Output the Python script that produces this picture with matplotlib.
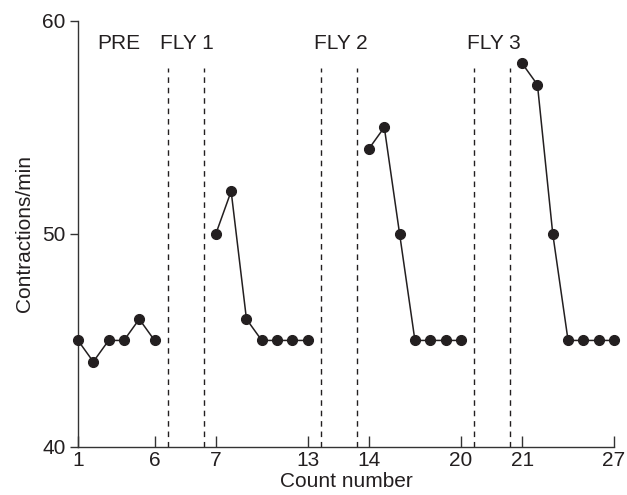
import numpy as np
import matplotlib.pyplot as plt

plt.rcParams['font.family'] = ['Liberation Sans', 'DejaVu Sans']

# data: count number and contractions/min for each phase
pre_counts = [1, 2, 3, 4, 5, 6]
pre_vals = [45, 44, 45, 45, 46, 45]
fly1_counts = [7, 8, 9, 10, 11, 12, 13]
fly1_vals = [50, 52, 46, 45, 45, 45, 45]
fly2_counts = [14, 15, 16, 17, 18, 19, 20]
fly2_vals = [54, 55, 50, 45, 45, 45, 45]
fly3_counts = [21, 22, 23, 24, 25, 26, 27]
fly3_vals = [58, 57, 50, 45, 45, 45, 45]

fly_labels = ["FLY 1", "FLY 2", "FLY 3"]
tick_counts = [1, 6, 7, 13, 14, 20, 21, 27]

# each phase is shifted right to leave a gap on the axis
gap = 3
segments = [(pre_counts, pre_vals), (fly1_counts, fly1_vals),
            (fly2_counts, fly2_vals), (fly3_counts, fly3_vals)]

ink = '#231f20'
fs = 15

fig = plt.figure(figsize=(6.27, 4.95), dpi=100)
ax = fig.add_axes([0.1244, 0.097, 0.8549, 0.861])

for i, (c, v) in enumerate(segments):
    x = np.array(c) + gap * i
    ax.plot(x, v, '-o', color=ink, lw=1.1, ms=7.2, mew=0.8, clip_on=False, zorder=3)

# dashed lines around each gap + FLY labels
for i, lab in enumerate(fly_labels):
    last = segments[i][0][-1] + gap * i
    first = segments[i + 1][0][0] + gap * (i + 1)
    x1, x2 = last + 0.88, first - 0.8
    for xx in (x1, x2):
        ax.plot([xx, xx], [40, 57.8], color=ink, lw=1, ls=(0, (4, 3.5)))
    ax.text((x1 + x2) / 2 + 0.1, 58.95, lab, ha='center', va='center', fontsize=fs, color=ink)

pre_mid = (pre_counts[0] + pre_counts[-1]) / 2 + 0.15
ax.text(pre_mid, 58.95, "PRE", ha='center', va='center', fontsize=fs, color=ink)

tick_pos = []
for t in tick_counts:
    for i, (c, v) in enumerate(segments):
        if c[0] <= t <= c[-1]:
            tick_pos.append(t + gap * i)
ax.set_xticks(tick_pos)
ax.set_xticklabels([str(t) for t in tick_counts])
ax.set_yticks([40, 50, 60])

ax.set_xlim(1, 36)
ax.set_ylim(40, 60)
ax.spines['top'].set_visible(False)
ax.spines['right'].set_visible(False)
for s in ('left', 'bottom'):
    ax.spines[s].set_color('#333333')
    ax.spines[s].set_linewidth(1)
ax.tick_params(axis='x', direction='in', length=8, width=1, labelsize=fs, pad=3, colors='#333333', labelcolor=ink)
ax.tick_params(axis='y', direction='out', length=6, width=1, labelsize=fs, pad=3, colors='#333333', labelcolor=ink)

ax.set_xlabel("Count number", fontsize=fs, color=ink, labelpad=1)
ax.set_ylabel("Contractions/min", fontsize=fs, color=ink, labelpad=6)

fig.savefig("out.png", dpi=100)
